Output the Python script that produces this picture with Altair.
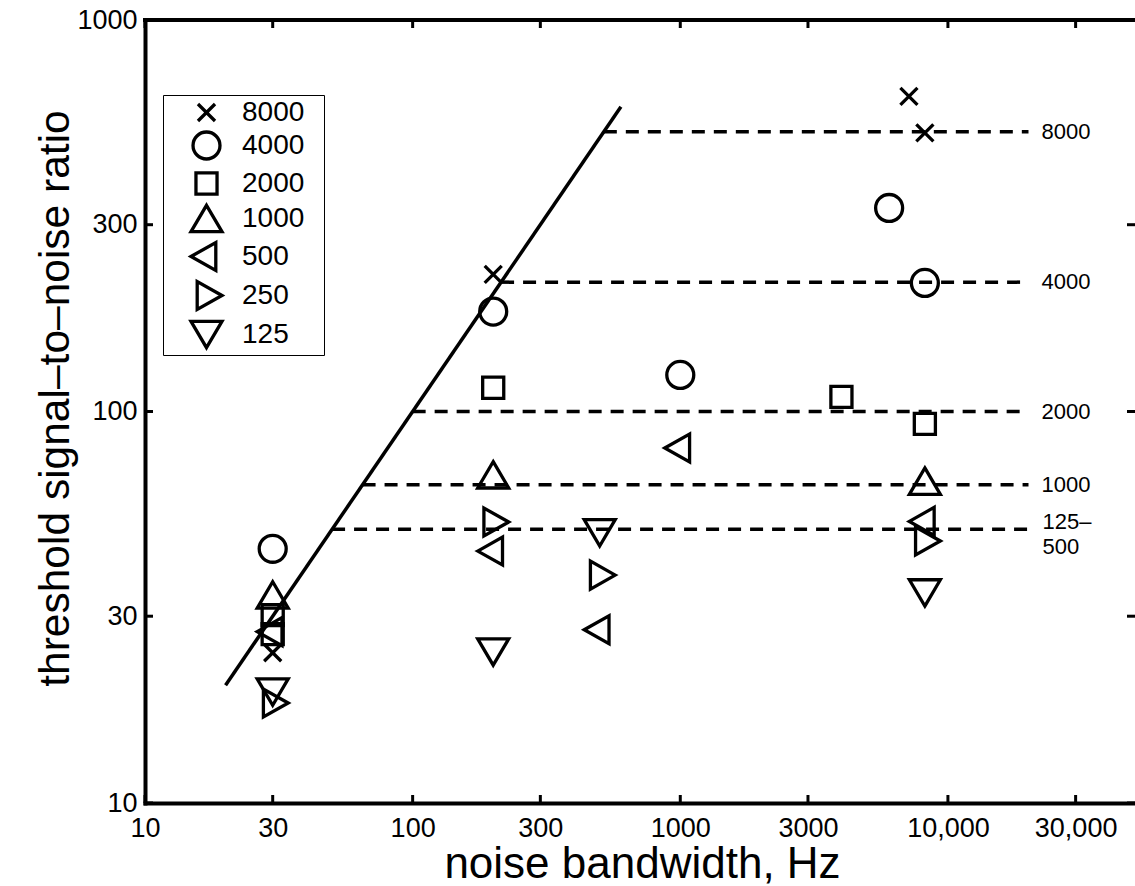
import altair as alt
import pandas as pd

# ---------------- data ----------------
series_order = ["8000", "4000", "2000", "1000", "500", "250", "125"]

x8000 = [30, 200, 7150, 8200]
y8000 = [24.2, 224, 638, 515]
x4000 = [30, 200, 1000, 6030, 8200]
y4000 = [44.6, 180, 124, 331, 213]
x2000 = [30, 30, 200, 4000, 8200]
y2000 = [30.2, 27.0, 115, 109, 93]
x1000 = [30, 200, 8200]
y1000 = [34.0, 68.9, 66.4]
x500 = [30, 200, 500, 1000, 8200]
y500 = [27.4, 44.0, 27.7, 80.7, 52.4]
x250 = [30, 200, 500, 8200]
y250 = [18.0, 52.2, 38.2, 46.7]
x125 = [30, 200, 500, 8200]
y125 = [19.2, 24.3, 49.0, 34.4]

# solid line (SNR proportional to bandwidth)
line_x = [20, 600]
line_y = [20, 600]

# dashed asymptotes
asym_labels = ["8000", "4000", "2000", "1000", "125–\n500"]
asym_y = [518, 214, 100, 65, 50]
asym_x_end = [20000, 20000, 20000, 20000, 20000]

x_ticks = [10, 30, 100, 300, 1000, 3000, 10000, 30000]
y_ticks = [10, 30, 100, 300, 1000]

# ---------------- styling ----------------
FONT = "Liberation Sans"
W, H = 990, 783
MARK_SIZE = 961

shape_paths = [
    "M-0.55,-0.55L0.55,0.55M-0.55,0.55L0.55,-0.55",                    # x
    "M0.87,0A0.87,0.87 0 1,1 -0.87,0A0.87,0.87 0 1,1 0.87,0Z",        # circle
    "M-0.68,-0.68H0.68V0.68H-0.68Z",                                   # square
    "M0,-0.85L1,0.85L-1,0.85Z",                                        # triangle up
    "M-1.0,0L0.6,-0.9L0.6,0.9Z",                                       # triangle left
    "M1.0,0L-0.6,-0.9L-0.6,0.9Z",                                      # triangle right
    "M0,0.85L1,-0.85L-1,-0.85Z",                                       # triangle down
]

# ---------------- tables ----------------
rows = []
for name, xs, ys in [("8000", x8000, y8000), ("4000", x4000, y4000),
                     ("2000", x2000, y2000), ("1000", x1000, y1000),
                     ("500", x500, y500), ("250", x250, y250), ("125", x125, y125)]:
    for a, b in zip(xs, ys):
        rows.append({"bw": a, "snr": b, "series": name})
pts = pd.DataFrame(rows)

line_df = pd.DataFrame({"bw": line_x, "snr": line_y})
asym_df = pd.DataFrame({"bw": asym_y, "bw2": asym_x_end, "snr": asym_y, "label": asym_labels})
xt_df = pd.DataFrame({"bw": x_ticks})
yt_df = pd.DataFrame({"snr": y_ticks})

xscale = alt.Scale(type="log", domain=[10, 50000], nice=False)
yscale = alt.Scale(type="log", domain=[10, 1000], nice=False)

legend = alt.Legend(
    title=".", titleOrient="right", titleColor="white", titleFontSize=8, titlePadding=17,
    orient="none", legendX=18, legendY=75,
    strokeColor="black", fillColor="white", padding=0,
    labelFont=FONT, labelFontSize=28, labelColor="black",
    symbolSize=MARK_SIZE, symbolStrokeWidth=3.3, symbolStrokeColor="black",
    symbolFillColor="transparent", symbolOpacity=1, symbolOffset=26, labelOffset=18,
    rowPadding=-5,
)

xaxis = alt.Axis(
    values=x_ticks, ticks=False, grid=False, domainWidth=4, domainColor="black",
    domainCap="square",
    labelExpr="datum.value >= 10000 ? format(datum.value, ',') : format(datum.value, 'd')",
    labelFont=FONT, labelFontSize=27, labelColor="black", labelPadding=12,
    labelOverlap=False, labelFlush=False, labelBound=False,
    title="noise bandwidth, Hz", titleFont=FONT, titleFontSize=44,
    titleFontWeight="normal", titleColor="black",
    titleX=W / 2 + 2, titleY=74, titleBaseline="alphabetic", titleAlign="center",
)
yaxis = alt.Axis(
    values=y_ticks, ticks=False, grid=False, domainWidth=4, domainColor="black",
    domainCap="square",
    labelFont=FONT, labelFontSize=27, labelColor="black", labelPadding=8,
    labelOverlap=False, labelFlush=False, labelBound=False, format="d",
    title="threshold signal\u2013to\u2013noise ratio", titleFont=FONT, titleFontSize=42.5,
    titleFontWeight="normal", titleColor="black",
    titleX=-77, titleY=378, titleBaseline="alphabetic", titleAlign="center", titleAngle=270,
)

X = lambda f: alt.X(f, scale=xscale, axis=xaxis)
Y = lambda f: alt.Y(f, scale=yscale, axis=yaxis)

points = alt.Chart(pts).mark_point(
    filled=False, strokeWidth=3.3, color="black", opacity=1, size=MARK_SIZE
).encode(
    x=X("bw:Q"),
    y=Y("snr:Q"),
    shape=alt.Shape("series:N", scale=alt.Scale(domain=series_order, range=shape_paths), legend=legend),
)

solid = alt.Chart(line_df).mark_line(strokeWidth=3.5, color="black").encode(
    x=X("bw:Q"), y=Y("snr:Q"),
)

dashed = alt.Chart(asym_df).mark_rule(strokeWidth=3.5, color="black", strokeDash=[13, 9]).encode(
    x=X("bw:Q"), x2="bw2:Q", y=Y("snr:Q"),
)

labels_single = alt.Chart(asym_df.iloc[:4]).mark_text(
    align="left", baseline="middle", dx=13, font=FONT, fontSize=22, color="black"
).encode(
    x=X("bw2:Q"), y=Y("snr:Q"), text="label:N",
)
labels_multi = alt.Chart(asym_df.iloc[4:]).mark_text(
    align="left", baseline="middle", dx=14, dy=-7, font=FONT, fontSize=22, color="black",
    lineBreak="\n", lineHeight=25,
).encode(
    x=X("bw2:Q"), y=Y("snr:Q"), text="label:N",
)

tick_bottom = alt.Chart(xt_df).mark_rule(strokeWidth=3, color="black").encode(
    x=X("bw:Q"), y=alt.value(H), y2=alt.value(H - 8))
tick_top = alt.Chart(xt_df).mark_rule(strokeWidth=3, color="black").encode(
    x=X("bw:Q"), y=alt.value(0), y2=alt.value(8))
tick_left = alt.Chart(yt_df).mark_rule(strokeWidth=3, color="black").encode(
    y=Y("snr:Q"), x=alt.value(0), x2=alt.value(8))
tick_right = alt.Chart(yt_df).mark_rule(strokeWidth=3, color="black").encode(
    y=Y("snr:Q"), x=alt.value(W - 8), x2=alt.value(W))

top_border = alt.Chart(pd.DataFrame({"a": [0]})).mark_rule(
    strokeWidth=4, color="black", strokeCap="square").encode(
    x=alt.value(0), x2=alt.value(W), y=alt.value(0))

chart = alt.layer(
    solid, dashed, labels_single, labels_multi, points,
    tick_bottom, tick_top, tick_left, tick_right, top_border,
).properties(
    width=W, height=H,
    padding={"left": 145, "top": 20, "right": 0, "bottom": 83},
    autosize=alt.AutoSizeParams(type="none"),
    background="white",
).configure_view(stroke=None)

chart.save("out.html", embed_options={"renderer": "svg", "actions": False})
